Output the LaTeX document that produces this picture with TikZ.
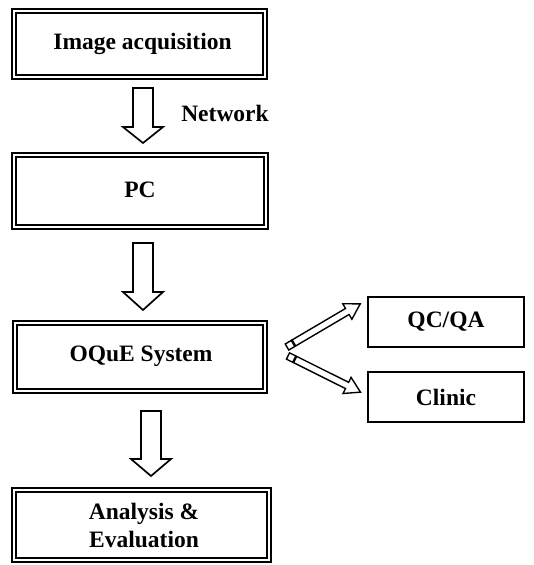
\documentclass[tikz,border=0pt]{standalone}
\usepackage{fontspec}
\setmainfont{Liberation Serif}
\usetikzlibrary{calc}
\tikzset{
  txt/.style={font=\bfseries\fontsize{23.5pt}{28pt}\selectfont, inner sep=0pt, align=center},
  dbox/.style={draw, line width=2.8pt, inner sep=0pt},
  sbox/.style={draw, line width=2.2pt, inner sep=0pt, minimum width=156pt, minimum height=50pt},
  barrow/.style={draw, line width=1.7pt, line join=miter, fill=white},
  sarrow/.style={draw, line width=1.4pt, line join=miter, fill=white},
}
\newcommand{\innerframe}[1]{\draw[line width=1.4pt] ([shift={(5.5pt,-5.5pt)}]#1.north west) rectangle ([shift={(-5.5pt,5.5pt)}]#1.south east);}
\begin{document}
\begin{tikzpicture}[x=1pt,y=1pt]
\useasboundingbox (0,0) rectangle (533,-565);
% double-framed boxes
\node[dbox, minimum width=255pt, minimum height=70pt] (ia) at (139.5,-44) {};
\innerframe{ia}
\node[txt] (iat) at (142.5,-44) {Image acquisition};
\node[dbox, minimum width=256pt, minimum height=76pt] (pc) at (140,-191) {};
\innerframe{pc}
\node[txt] (pct) at (140,-190) {PC};
\node[dbox, minimum width=254pt, minimum height=72pt] (oq) at (140,-357) {};
\innerframe{oq}
\node[txt] (oqt) at (141,-356) {OQuE System};
\node[dbox, minimum width=259pt, minimum height=74pt] (ae) at (141.5,-525) {};
\innerframe{ae}
\node[txt] (aet) at (144,-525) {Analysis \&\\Evaluation};
% single boxes
\node[sbox] (qc) at (446,-322) {};
\node[txt] (qct) at (446,-322) {QC/QA};
\node[sbox] (cl) at (446,-397) {};
\node[txt] (clt) at (446,-397) {Clinic};
% label
\node[txt, anchor=base] (net) at (225,-121) {Network};
% vertical block arrows
\coordinate (a1) at (143,-88);
\coordinate (a2) at (143,-243);
\coordinate (a3) at (151,-411);
\draw[barrow] ([xshift=-10pt]a1) -- ++(20,0) -- ++(0,-39) -- ++(10,0) -- ++(-20,-16) -- ++(-20,16) -- ++(10,0) -- cycle;
\draw[barrow] ([xshift=-10pt]a2) -- ++(20,0) -- ++(0,-49) -- ++(10,0) -- ++(-20,-18) -- ++(-20,18) -- ++(10,0) -- cycle;
\draw[barrow] ([xshift=-10pt]a3) -- ++(20,0) -- ++(0,-48) -- ++(10,0) -- ++(-20,-17) -- ++(-20,17) -- ++(10,0) -- cycle;
% slanted arrows
\coordinate (s1) at (287,-347);
\coordinate (s2) at (288,-356);
\begin{scope}[shift={(s1)}, rotate=30.5]
  \draw[sarrow] (8,-3.5) -- (70,-3.5) -- (70,-9) -- (85,0) -- (70,9) -- (70,3.5) -- (8,3.5) -- cycle;
  \draw[sarrow] (0,-3.5) rectangle (7,3.5);
\end{scope}
\begin{scope}[shift={(s2)}, rotate=-26.5]
  \draw[sarrow] (8,-3.5) -- (66,-3.5) -- (66,-9) -- (81,0) -- (66,9) -- (66,3.5) -- (8,3.5) -- cycle;
  \draw[sarrow] (0,-3.5) rectangle (7,3.5);
\end{scope}
\end{tikzpicture}
\end{document}
